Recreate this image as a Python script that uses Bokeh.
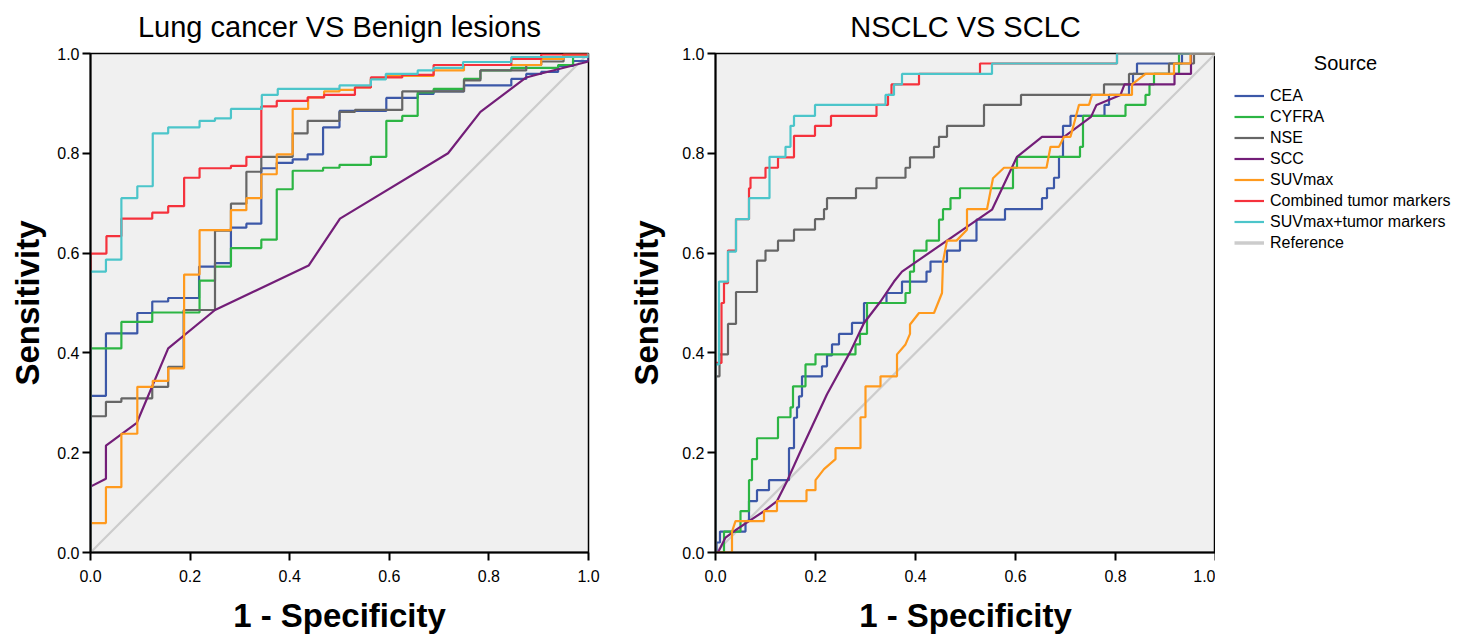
from bokeh.plotting import figure
from bokeh.models import Range1d, FixedTicker, PrintfTickFormatter, Legend, LegendItem, Label
from bokeh.layouts import row
from bokeh.embed import file_html
from bokeh.resources import INLINE

FONT = "Liberation Sans"

series_names = ["CEA", "CYFRA", "NSE", "SCC", "SUVmax", "Combined tumor markers",
                "SUVmax+tumor markers", "Reference"]
series_colors = ["#3C58A8", "#2CB544", "#666666", "#731E78", "#FF9A1E", "#F5323C",
                 "#4CC5CA", "#CCCCCC"]

tick_values = [0.0, 0.2, 0.4, 0.6, 0.8, 1.0]

titles = ["Lung cancer VS Benign lesions", "NSCLC VS SCLC"]
x_label = "1 - Specificity"
y_label = "Sensitivity"
legend_title = "Source"

# ---------------- Left panel: Lung cancer vs benign (step knots: at x, curve rises to y)
L_CEA_x = [0, 0.031, 0.094, 0.124, 0.156, 0.218, 0.25, 0.282, 0.313, 0.343, 0.374, 0.406, 0.436,
           0.467, 0.50, 0.594, 0.657, 0.689, 0.75, 0.845, 0.875, 0.905, 0.939, 0.969, 1.0]
L_CEA_y = [0.314, 0.439, 0.48, 0.503, 0.51, 0.573, 0.58, 0.651, 0.659, 0.770, 0.781, 0.788, 0.798,
           0.852, 0.885, 0.911, 0.919, 0.924, 0.936, 0.949, 0.959, 0.963, 0.975, 0.985, 1.0]

L_CYFRA_x = [0, 0.062, 0.124, 0.219, 0.25, 0.282, 0.343, 0.374, 0.406, 0.467, 0.50, 0.563, 0.594,
             0.626, 0.657, 0.689, 0.75, 0.783, 0.845, 0.939, 0.969, 1.0]
L_CYFRA_y = [0.409, 0.462, 0.481, 0.545, 0.573, 0.610, 0.627, 0.728, 0.765, 0.771, 0.777, 0.793, 0.865,
             0.875, 0.922, 0.929, 0.949, 0.966, 0.971, 0.977, 0.993, 1.0]

L_NSE_x = [0, 0.031, 0.062, 0.124, 0.156, 0.187, 0.25, 0.282, 0.313, 0.343, 0.406, 0.436, 0.50,
           0.531, 0.626, 0.75, 0.783, 0.875, 0.905, 0.95, 1.0]
L_NSE_y = [0.273, 0.302, 0.309, 0.332, 0.372, 0.486, 0.645, 0.699, 0.763, 0.793, 0.84, 0.865, 0.883,
           0.887, 0.924, 0.946, 0.966, 0.977, 0.984, 0.998, 1.0]

# SCC is drawn as a polyline through these points
L_SCC_x = [0, 0, 0.031, 0.031, 0.093, 0.156, 0.25, 0.438, 0.501, 0.718, 0.783, 0.875, 0.905, 1.0, 1.0]
L_SCC_y = [0, 0.132, 0.148, 0.214, 0.26, 0.409, 0.486, 0.575, 0.669, 0.80, 0.883, 0.952, 0.96, 0.984, 1.0]

L_SUV_x = [0, 0.031, 0.062, 0.094, 0.125, 0.156, 0.188, 0.219, 0.282, 0.313, 0.343, 0.374, 0.406,
           0.437, 0.469, 0.50, 0.531, 0.563, 0.593, 0.689, 0.75, 0.905, 0.95, 1.0]
L_SUV_y = [0.059, 0.131, 0.238, 0.332, 0.344, 0.369, 0.557, 0.646, 0.686, 0.710, 0.758, 0.798, 0.889,
           0.912, 0.924, 0.927, 0.932, 0.949, 0.955, 0.966, 0.977, 0.989, 0.998, 1.0]

L_COMB_x = [0, 0.032, 0.062, 0.124, 0.156, 0.188, 0.219, 0.282, 0.313, 0.343, 0.374, 0.436, 0.469,
            0.531, 0.563, 0.626, 0.689, 0.845, 0.905, 1.0]
L_COMB_y = [0.599, 0.634, 0.669, 0.681, 0.694, 0.751, 0.770, 0.775, 0.793, 0.894, 0.905, 0.912, 0.917,
            0.932, 0.952, 0.957, 0.977, 0.989, 0.998, 1.0]

L_SUVTM_x = [0, 0.031, 0.062, 0.094, 0.125, 0.156, 0.219, 0.25, 0.282, 0.344, 0.376, 0.50, 0.563,
             0.593, 0.657, 0.689, 0.748, 0.845, 1.0]
L_SUVTM_y = [0.563, 0.587, 0.710, 0.734, 0.840, 0.852, 0.865, 0.870, 0.889, 0.917, 0.929, 0.936, 0.948,
             0.959, 0.966, 0.971, 0.983, 0.993, 1.0]

# ---------------- Right panel: NSCLC vs SCLC
R_CEA_x = [0, 0.002, 0.009, 0.06, 0.067, 0.083, 0.107, 0.147, 0.157, 0.163, 0.167, 0.173, 0.213,
           0.223, 0.233, 0.247, 0.273, 0.297, 0.342, 0.373, 0.422, 0.43, 0.463, 0.489, 0.522, 0.579,
           0.653, 0.663, 0.677, 0.687, 0.695, 0.71, 0.778, 0.787, 0.827, 0.835, 0.843, 0.933, 1.0]
R_CEA_y = [0, 0.02, 0.042, 0.063, 0.103, 0.125, 0.145, 0.209, 0.27, 0.291, 0.313, 0.353, 0.373,
           0.395, 0.417, 0.438, 0.46, 0.50, 0.52, 0.543, 0.563, 0.583, 0.605, 0.625, 0.667, 0.688,
           0.71, 0.73, 0.751, 0.793, 0.855, 0.875, 0.897, 0.917, 0.938, 0.959, 0.98, 1.0, 1.0]

R_CYFRA_x = [0, 0.017, 0.05, 0.067, 0.073, 0.083, 0.125, 0.15, 0.155, 0.18, 0.20, 0.28, 0.289, 0.303,
             0.38, 0.389, 0.397, 0.422, 0.447, 0.455, 0.47, 0.489, 0.595, 0.603, 0.729, 0.735, 0.82,
             0.86, 0.868, 0.877, 0.927, 1.0]
R_CYFRA_y = [0, 0.042, 0.083, 0.145, 0.187, 0.229, 0.271, 0.291, 0.333, 0.377, 0.397, 0.417, 0.438, 0.50,
             0.52, 0.563, 0.605, 0.625, 0.667, 0.688, 0.71, 0.73, 0.771, 0.793, 0.813, 0.875, 0.897,
             0.917, 0.938, 0.959, 1.0, 1.0]

R_NSE_x = [0, 0.008, 0.025, 0.041, 0.083, 0.10, 0.125, 0.157, 0.199, 0.217, 0.223, 0.281, 0.322,
           0.38, 0.389, 0.437, 0.447, 0.463, 0.537, 0.611, 0.777, 0.827, 0.907, 0.957, 1.0]
R_NSE_y = [0.353, 0.397, 0.458, 0.522, 0.585, 0.605, 0.625, 0.647, 0.668, 0.688, 0.71, 0.73, 0.751,
           0.771, 0.792, 0.813, 0.833, 0.855, 0.897, 0.917, 0.938, 0.959, 0.98, 1.0, 1.0]

# SCC polyline
R_SCC_x = [0.005, 0.02, 0.043, 0.097, 0.123, 0.143, 0.17, 0.223, 0.27, 0.297, 0.33, 0.357, 0.373,
           0.553, 0.603, 0.653, 0.697, 0.751, 0.762, 0.81, 0.818, 0.918, 0.918, 0.951, 0.951, 1.0]
R_SCC_y = [0, 0.03, 0.047, 0.083, 0.103, 0.143, 0.203, 0.317, 0.403, 0.46, 0.503, 0.543, 0.563,
           0.687, 0.793, 0.833, 0.833, 0.873, 0.897, 0.917, 0.938, 0.938, 0.959, 0.959, 1.0, 1.0]

# SUVmax polyline
R_SUV_x = [0, 0.033, 0.033, 0.04, 0.097, 0.097, 0.123, 0.123, 0.182, 0.182, 0.20, 0.20, 0.217, 0.24,
           0.24, 0.29, 0.29, 0.30, 0.30, 0.33, 0.33, 0.363, 0.363, 0.38, 0.389, 0.389, 0.407, 0.437,
           0.453, 0.455, 0.463, 0.482, 0.503, 0.503, 0.543, 0.555, 0.577, 0.662, 0.67, 0.687, 0.697,
           0.71, 0.727, 0.747, 0.753, 0.833, 0.833, 0.86, 0.917, 0.917, 0.95, 0.95, 1.0]
R_SUV_y = [0, 0, 0.042, 0.063, 0.063, 0.083, 0.083, 0.103, 0.103, 0.125, 0.125, 0.145, 0.167, 0.187,
           0.209, 0.209, 0.271, 0.271, 0.333, 0.333, 0.353, 0.353, 0.397, 0.417, 0.438, 0.457, 0.48, 0.48,
           0.52, 0.583, 0.625, 0.625, 0.647, 0.688, 0.688, 0.75, 0.771, 0.771, 0.813, 0.813, 0.833,
           0.833, 0.897, 0.897, 0.917, 0.917, 0.938, 0.959, 0.959, 0.98, 0.98, 1.0, 1.0]

R_COMB_x = [0, 0.012, 0.017, 0.025, 0.041, 0.067, 0.07, 0.10, 0.125, 0.157, 0.199, 0.231, 0.322,
            0.345, 0.352, 0.407, 0.529, 0.803, 1.0]
R_COMB_y = [0.38, 0.50, 0.54, 0.605, 0.668, 0.73, 0.751, 0.771, 0.792, 0.835, 0.855, 0.875, 0.897,
            0.917, 0.938, 0.959, 0.98, 1.0, 1.0]

R_SUVTM_x = [0, 0.007, 0.025, 0.041, 0.067, 0.108, 0.14, 0.15, 0.157, 0.199, 0.34, 0.357, 0.373,
             0.553, 0.803, 1.0]
R_SUVTM_y = [0.377, 0.543, 0.603, 0.668, 0.71, 0.793, 0.813, 0.855, 0.875, 0.897, 0.917, 0.938, 0.959,
             0.98, 1.0, 1.0]

ref_x = [0.0, 1.0]
ref_y = [0.0, 1.0]

TOP, FH, BOTTOM = 53, 499, 82


def stairs(xs, ys):
    px, py = [0.0], [0.0]
    cy = 0.0
    for x, y in zip(xs, ys):
        px.append(x); py.append(cy)
        px.append(x); py.append(y)
        cy = y
    px.append(1.0); py.append(cy)
    px.append(1.0); py.append(1.0)
    return px, py


def make_fig(title, fw, left, right, ylab_standoff):
    p = figure(output_backend="svg", toolbar_location=None,
               frame_width=fw, frame_height=FH,
               min_border_top=TOP, min_border_bottom=BOTTOM,
               min_border_left=left, min_border_right=right,
               x_range=Range1d(0, 1), y_range=Range1d(0, 1),
               background_fill_color="#F0F0F0", border_fill_color="white")
    p.title.text = title
    p.title.text_font = FONT
    p.title.text_font_size = "29px"
    p.title.text_font_style = "normal"
    p.title.align = "center"
    p.title.vertical_align = "top"
    p.title.text_color = "black"
    p.title.standoff = 18
    p.grid.visible = False
    p.outline_line_color = "black"
    p.outline_line_width = 1.5
    p.outline_line_alpha = 1.0
    for ax in (p.xaxis[0], p.yaxis[0]):
        ax.ticker = FixedTicker(ticks=tick_values)
        ax.formatter = PrintfTickFormatter(format="%.1f")
        ax.axis_line_width = 2
        ax.axis_line_color = "black"
        ax.major_tick_line_width = 2
        ax.major_tick_out = 8
        ax.major_tick_in = 0
        ax.minor_tick_out = 0
        ax.minor_tick_in = 0
        ax.major_label_text_font = FONT
        ax.major_label_text_font_size = "16px"
        ax.major_label_text_color = "black"
        ax.axis_label_text_font = FONT
        ax.axis_label_text_font_size = "33px"
        ax.axis_label_text_font_style = "bold"
        ax.axis_label_text_color = "black"
    p.xaxis.axis_label = x_label
    p.yaxis.axis_label = y_label
    p.xaxis.major_label_standoff = 9
    p.yaxis.major_label_standoff = 3
    p.xaxis.axis_label_standoff = 12
    p.yaxis.axis_label_standoff = ylab_standoff
    return p


left_series = [
    stairs(L_CEA_x, L_CEA_y), stairs(L_CYFRA_x, L_CYFRA_y), stairs(L_NSE_x, L_NSE_y),
    (L_SCC_x, L_SCC_y), stairs(L_SUV_x, L_SUV_y), stairs(L_COMB_x, L_COMB_y),
    stairs(L_SUVTM_x, L_SUVTM_y),
]
right_series = [
    stairs(R_CEA_x, R_CEA_y), stairs(R_CYFRA_x, R_CYFRA_y), stairs(R_NSE_x, R_NSE_y),
    ([0.0] + R_SCC_x, [0.0] + R_SCC_y), (R_SUV_x, R_SUV_y), stairs(R_COMB_x, R_COMB_y),
    stairs(R_SUVTM_x, R_SUVTM_y),
]

p1 = make_fig(titles[0], 498, 90, 32, 8)
p2 = make_fig(titles[1], 500, 95, 0, 14)

for p, series in ((p1, left_series), (p2, right_series)):
    p.line(ref_x, ref_y, line_color=series_colors[7], line_width=2.2)
    for (xs, ys), c in zip(series, series_colors[:7]):
        p.line(xs, ys, line_color=c, line_width=2.2)

# legend panel: blank canvas on the right; its x range starts past the data so the
# legend renderers (the same series) stay out of view, only their legend swatches show
LW = 235
X0 = 5
p3 = figure(output_backend="svg", toolbar_location=None, frame_width=LW, frame_height=FH,
            min_border_top=TOP, min_border_bottom=BOTTOM, min_border_left=10, min_border_right=0,
            x_axis_type=None, y_axis_type=None,
            x_range=Range1d(X0, X0 + LW), y_range=Range1d(0, FH))
p3.outline_line_color = None
p3.grid.visible = False
proxies = []
for (xs, ys), c in zip(right_series + [(ref_x, ref_y)], series_colors):
    proxies.append(p3.line(xs, ys, line_color=c,
                           line_width=3.5 if c == series_colors[7] else 2.2))
items = [LegendItem(label=n, renderers=[r]) for n, r in zip(series_names, proxies)]
leg = Legend(items=items, location=(9, 299), orientation="vertical",
             glyph_width=30, glyph_height=21, label_height=21, label_standoff=6,
             spacing=0, padding=0, margin=0, border_line_alpha=0,
             background_fill_alpha=0, label_text_font=FONT,
             label_text_font_size="16px", label_text_color="black")
p3.add_layout(leg)
p3.add_layout(Label(x=X0 + 120, y=490, text=legend_title, text_font=FONT, text_font_size="20px",
                    text_align="center", text_baseline="middle", text_color="black"))

layout = row(p1, p2, p3, spacing=0)
open("out.html", "w").write(file_html(layout, INLINE))
